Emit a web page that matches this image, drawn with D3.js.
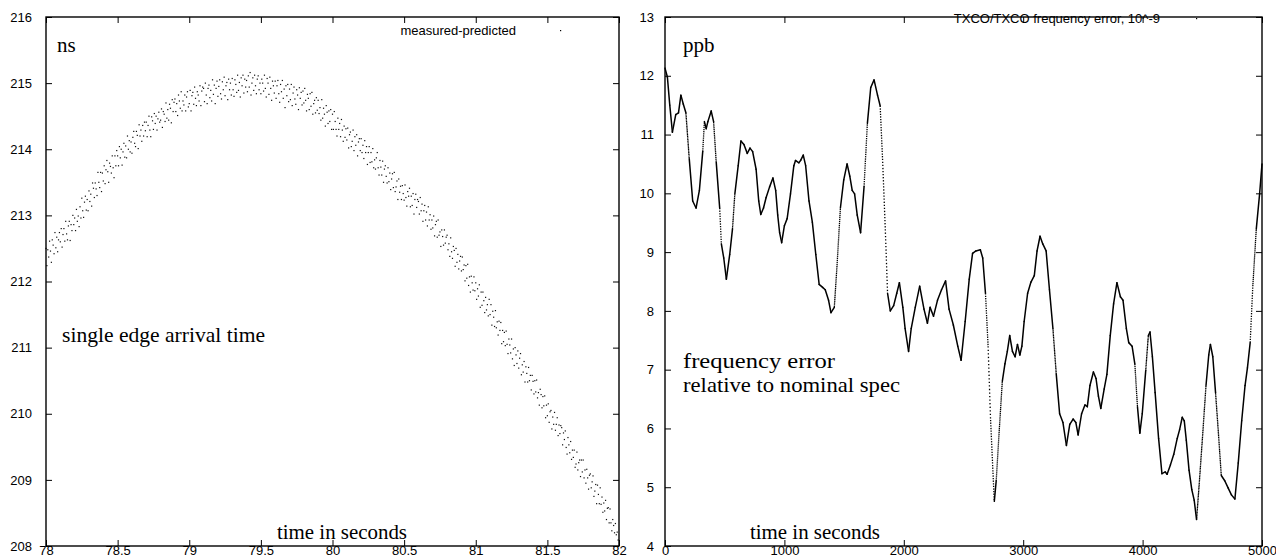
<!DOCTYPE html>
<html><head><meta charset="utf-8">
<script src="https://cdn.jsdelivr.net/npm/d3@7"></script>
<style>body{margin:0;background:#fff}svg{display:block}</style>
</head><body>
<svg id="c" width="1276" height="560"></svg>
<script>
// ---------- left panel: single edge arrival time (ns), sampled every 6.25 ms from 78 s ----------
const edgeStart = 78;
const edgeStep = 0.00625;
const edgeArrival = [
212.50,212.24,212.48,212.37,212.61,212.46,212.29,212.63,212.55,212.42,212.74,212.51,212.67,212.45,212.63,212.74,
212.60,212.80,212.52,212.71,212.80,212.61,212.91,212.72,212.63,212.84,212.91,212.62,212.86,212.77,213.00,212.86,
212.96,212.77,213.09,212.91,212.99,212.83,213.13,212.96,213.26,213.07,212.97,213.20,213.29,213.08,213.24,213.07,
213.37,213.21,213.32,213.14,213.49,213.41,213.27,213.49,213.40,213.30,213.65,213.50,213.42,213.65,213.36,213.64,
213.52,213.75,213.48,213.69,213.83,213.66,213.50,213.79,213.74,213.64,213.90,213.72,213.57,213.90,213.75,213.98,
213.90,213.75,214.04,213.87,214.00,213.76,213.96,214.09,213.88,214.05,213.87,214.20,214.00,214.13,213.96,214.11,
213.94,214.18,214.27,214.09,214.04,214.27,214.21,214.01,214.37,214.20,214.29,214.12,214.36,214.20,214.41,214.28,
214.41,214.19,214.36,214.50,214.29,214.19,214.49,214.43,214.30,214.54,214.39,214.50,214.29,214.46,214.56,214.41,
214.44,214.61,214.33,214.57,214.53,214.42,214.70,214.47,214.60,214.44,214.68,214.62,214.40,214.75,214.57,214.71,
214.76,214.57,214.69,214.51,214.82,214.73,214.62,214.87,214.58,214.73,214.67,214.82,214.58,214.79,214.87,214.64,
214.69,214.89,214.58,214.81,214.86,214.68,214.94,214.77,214.66,214.87,214.82,214.73,214.96,214.66,214.88,214.94,
214.92,214.72,215.00,214.82,214.69,214.92,214.97,214.78,214.89,214.73,215.05,214.83,214.97,214.69,214.92,215.03,
214.80,214.95,215.05,214.84,214.76,215.02,214.90,215.09,214.81,214.96,215.01,214.75,215.06,214.90,215.00,214.82,
215.07,214.90,214.80,215.05,214.98,214.86,215.12,214.89,215.01,214.79,215.08,214.96,215.12,214.85,215.06,214.94,
215.04,214.87,215.11,214.94,215.16,214.82,215.00,215.08,214.89,215.12,214.96,214.84,215.06,215.11,214.90,215.00,
214.84,215.06,215.00,214.88,215.12,214.92,214.79,215.07,215.00,214.83,215.09,214.92,214.74,215.03,214.96,214.85,
215.03,214.77,214.96,215.04,214.84,214.71,214.98,214.87,215.04,214.77,214.91,214.63,214.96,214.81,214.98,214.72,
214.91,214.75,214.98,214.66,214.85,214.94,214.76,214.68,214.90,214.82,214.60,214.93,214.77,214.86,214.67,214.88,
214.70,214.92,214.74,214.58,214.83,214.77,214.60,214.84,214.65,214.86,214.53,214.69,214.74,214.55,214.78,214.59,
214.74,214.54,214.63,214.44,214.75,214.47,214.62,214.53,214.35,214.66,214.56,214.39,214.58,214.42,214.60,214.30,
214.53,214.30,214.57,214.42,214.30,214.20,214.47,214.30,214.39,214.19,214.45,214.29,214.12,214.35,214.18,214.31,
214.14,214.32,214.02,214.22,214.26,214.04,214.12,214.29,213.98,214.19,214.06,214.22,213.90,214.11,214.16,213.98,
214.16,213.95,214.06,213.86,214.13,213.95,214.04,213.77,213.95,214.04,213.80,213.95,213.81,214.01,213.72,213.84,
213.70,213.87,213.95,213.72,213.61,213.83,213.73,213.61,213.82,213.50,213.70,213.75,213.59,213.49,213.72,213.51,
213.64,213.39,213.55,213.63,213.42,213.65,213.36,213.43,213.52,213.24,213.55,213.35,213.44,213.24,213.45,213.33,
213.23,213.46,213.27,213.14,213.36,213.29,213.41,213.13,213.29,213.15,213.33,213.02,213.24,213.32,213.12,213.24,
213.21,213.02,213.27,213.07,213.17,212.91,213.07,213.15,212.93,213.05,212.84,213.13,212.93,213.01,212.79,212.93,
212.81,212.99,212.69,212.86,212.91,212.67,212.93,212.70,212.75,212.53,212.78,212.68,212.55,212.78,212.58,212.67,
212.70,212.48,212.57,212.38,212.66,212.45,212.35,212.53,212.47,212.23,212.50,212.29,212.41,212.19,212.31,212.38,
212.16,212.37,212.18,212.25,212.01,212.24,212.05,212.26,211.94,212.07,211.84,212.08,211.98,211.87,212.07,211.86,
211.98,211.73,211.89,211.78,211.95,211.61,211.84,211.64,211.84,211.71,211.53,211.76,211.57,211.65,211.48,211.73,
211.50,211.65,211.34,211.55,211.46,211.32,211.56,211.30,211.39,211.19,211.40,211.26,211.38,211.06,211.26,211.09,
211.23,211.03,211.25,211.05,210.91,211.13,211.04,210.92,211.13,210.83,210.98,210.73,211.00,210.89,210.76,210.95,
210.69,210.84,210.91,210.59,210.74,210.63,210.79,210.48,210.71,210.61,210.48,210.70,210.50,210.58,210.36,210.58,
210.49,210.30,210.50,210.33,210.51,210.24,210.32,210.13,210.37,210.29,210.09,210.26,210.12,210.27,209.94,210.13,
209.97,210.15,209.87,210.03,210.05,209.77,209.95,209.84,210.02,209.75,209.84,209.94,209.67,209.83,209.70,209.82,
209.79,209.53,209.71,209.61,209.74,209.49,209.39,209.64,209.53,209.41,209.58,209.31,209.45,209.34,209.45,209.19,
209.24,209.42,209.15,209.26,209.30,209.05,209.30,209.12,209.30,209.03,209.15,208.95,209.16,209.03,208.86,209.07,
209.09,208.88,208.97,209.06,208.75,208.83,208.93,208.64,208.92,208.78,208.64,208.88,208.63,208.74,208.51,208.65,
208.53,208.69,208.40,208.57,208.58,208.35,208.56,208.35,208.23,208.40,208.31,208.20,208.34,208.17,208.21,208.09
];
const edgeXTicks = [78, 78.5, 79, 79.5, 80, 80.5, 81, 81.5, 82];
const edgeYTicks = [208, 209, 210, 211, 212, 213, 214, 215, 216];

// ---------- right panel: TXCO/TXCO frequency error (ppb) ----------
const freqTime = [0,20,40,62,90,113,133,153,175,203,232,260,288,316,330,345,359,387,407,429,458,472,492,514,542,565,585,613,636,661,689,712,734,763,785,802,825,847,876,904,927,944,960,977,1000,1023,1051,1079,1093,1121,1136,1158,1178,1206,1234,1263,1291,1320,1342,1370,1390,1418,1441,1469,1497,1525,1548,1568,1588,1610,1638,1667,1695,1723,1751,1780,1802,1822,1845,1864,1887,1915,1941,1963,1992,2011,2040,2062,2096,2133,2169,2198,2220,2249,2282,2316,2350,2379,2415,2452,2480,2514,2548,2576,2604,2641,2661,2684,2706,2726,2746,2758,2774,2797,2825,2847,2867,2887,2910,2932,2952,2972,2989,3008,3037,3065,3093,3116,3141,3164,3192,3220,3249,3277,3305,3333,3362,3390,3418,3441,3460,3489,3517,3537,3559,3588,3610,3630,3650,3678,3701,3729,3757,3785,3814,3836,3864,3884,3912,3935,3957,3977,3997,4026,4048,4062,4082,4105,4134,4162,4190,4205,4233,4261,4290,4310,4332,4349,4366,4389,4412,4432,4452,4474,4503,4531,4554,4568,4588,4611,4636,4659,4688,4716,4744,4773,4801,4830,4858,4878,4901,4923,4952,4980,5000];
const freqValue = [12.13,11.98,11.50,11.04,11.34,11.37,11.67,11.52,11.37,10.59,9.87,9.75,10.05,10.71,11.22,11.10,11.22,11.40,11.22,10.53,9.75,9.14,8.90,8.54,8.96,9.39,9.99,10.47,10.89,10.83,10.68,10.77,10.71,10.41,9.87,9.64,9.75,9.93,10.11,10.26,10.05,9.63,9.33,9.16,9.45,9.57,9.99,10.47,10.56,10.52,10.56,10.65,10.47,9.87,9.51,8.96,8.45,8.40,8.36,8.18,7.97,8.06,8.78,9.75,10.23,10.50,10.29,10.05,9.99,9.63,9.33,10.11,11.19,11.80,11.93,11.67,11.49,10.59,9.39,8.30,8.00,8.09,8.30,8.48,8.06,7.70,7.31,7.70,8.06,8.42,8.03,7.79,8.06,7.91,8.18,8.36,8.51,8.03,7.76,7.40,7.16,7.82,8.54,8.98,9.02,9.04,8.90,8.30,7.40,6.19,5.29,4.76,5.11,5.89,6.80,7.10,7.31,7.58,7.31,7.22,7.43,7.25,7.40,7.82,8.30,8.49,8.60,9.02,9.27,9.14,9.02,8.36,7.70,6.92,6.25,6.10,5.71,6.07,6.16,6.10,5.89,6.25,6.40,6.37,6.73,6.96,6.85,6.55,6.34,6.67,6.92,7.58,8.12,8.48,8.24,8.18,7.70,7.46,7.40,7.10,6.37,5.92,6.25,6.98,7.58,7.64,7.22,6.61,5.83,5.23,5.26,5.22,5.38,5.56,5.83,5.98,6.19,6.13,5.80,5.29,4.96,4.78,4.45,5.05,5.89,6.73,7.25,7.43,7.22,6.61,5.89,5.20,5.11,4.99,4.87,4.80,5.41,6.13,6.73,7.03,7.46,8.42,9.39,9.99,10.50];
const freqXTicks = [0, 1000, 2000, 3000, 4000, 5000];
const freqYTicks = [4, 5, 6, 7, 8, 9, 10, 11, 12, 13];

// ---------- drawing ----------
const svg = d3.select("#c");
const SANS = "'Liberation Sans', Arial, sans-serif";
const SERIF = "'Liberation Serif', 'Times New Roman', serif";

function frame(x, y, xTicks, yTicks, yLabelPad) {
  const [x0, x1] = x.range();
  const [y1, y0] = y.range();
  const g = svg.append("g");
  const styleAxis = a => {
    a.select(".domain").remove();
    a.selectAll(".tick line").attr("stroke", "#000").attr("stroke-width", 1);
    a.selectAll("text").attr("font-family", SANS).attr("font-size", 13).attr("fill", "#000");
  };
  g.append("g").attr("transform", `translate(0,${y1})`)
    .call(d3.axisBottom(x).tickValues(xTicks).tickSizeInner(-6).tickSizeOuter(0).tickPadding(0).tickFormat(d => String(d)))
    .call(styleAxis);
  g.append("g").attr("transform", `translate(0,${y0})`)
    .call(d3.axisTop(x).tickValues(xTicks).tickSizeInner(-6).tickSizeOuter(0).tickFormat(""))
    .call(styleAxis);
  g.append("g").attr("transform", `translate(${x0},0)`)
    .call(d3.axisLeft(y).tickValues(yTicks).tickSizeInner(-6).tickSizeOuter(0).tickPadding(yLabelPad).tickFormat(d => String(d)))
    .call(styleAxis);
  g.append("g").attr("transform", `translate(${x1},0)`)
    .call(d3.axisRight(y).tickValues(yTicks).tickSizeInner(-6).tickSizeOuter(0).tickFormat(""))
    .call(styleAxis);
  g.append("rect").attr("x", x0).attr("y", y0).attr("width", x1 - x0).attr("height", y1 - y0)
    .attr("fill", "none").attr("stroke", "#000").attr("stroke-width", 1.4);
  return g;
}
function label(txt, x, yb, size, family, anchor, len) {
  const t = svg.append("text").attr("x", x).attr("y", yb).attr("font-family", family).attr("font-size", size)
    .attr("text-anchor", anchor || "start").attr("fill", "#000").text(txt);
  if (len) t.attr("textLength", len).attr("lengthAdjust", "spacingAndGlyphs");
}

// Left panel
const ex = d3.scaleLinear().domain([78, 82]).range([46, 619]);
const ey = d3.scaleLinear().domain([208, 216]).range([546, 17]);
const edgePts = edgeArrival.map((v, i) => [edgeStart + i * edgeStep, v]);
svg.append("g").selectAll("rect").data(edgePts).join("rect")
  .attr("x", d => ex(d[0]) - 0.6).attr("y", d => ey(d[1]) - 0.6)
  .attr("width", 1.2).attr("height", 1.2).attr("fill", "#111");
frame(ex, ey, edgeXTicks, edgeYTicks, 14);
label("ns", 57, 52, 21, SERIF);
label("single edge arrival time", 62, 342, 21, SERIF, "start", 203);
label("time in seconds", 277, 539, 21, SERIF, "start", 130);
label("measured-predicted", 516, 35, 13, SANS, "end");
svg.append("rect").attr("x", 560).attr("y", 30).attr("width", 1.2).attr("height", 1.2).attr("fill", "#000");

// Right panel
const fx = d3.scaleLinear().domain([0, 5000]).range([665, 1262]);
const fy = d3.scaleLinear().domain([4, 13]).range([546, 17]);
const fPts = d3.zip(freqTime, freqValue);
const segs = d3.pairs(fPts);
svg.append("g").selectAll("line").data(segs).join("line")
  .attr("x1", d => fx(d[0][0])).attr("y1", d => fy(d[0][1]))
  .attr("x2", d => fx(d[1][0])).attr("y2", d => fy(d[1][1]))
  .attr("stroke", "#000")
  .each(function(d) {
    const L = Math.hypot(fx(d[1][0]) - fx(d[0][0]), fy(d[1][1]) - fy(d[0][1]));
    const s = L / (d[1][0] - d[0][0]); // px per 1-second sample
    const sel = d3.select(this);
    if (s <= 1.6) sel.attr("stroke-width", 1.5).attr("stroke-linecap", "round");
    else sel.attr("stroke-width", 1.3).attr("stroke-dasharray", `1.3 ${(s - 1.3).toFixed(2)}`);
  });
frame(fx, fy, freqXTicks, freqYTicks, 11);
label("ppb", 683, 52, 21, SERIF);
label("frequency error", 683, 368, 21, SERIF, "start", 152);
label("relative to nominal spec", 683, 392, 21, SERIF, "start", 217);
label("time in seconds", 750, 539, 21, SERIF, "start", 130);
label("TXCO/TXCO frequency error, 10^-9", 1160, 23, 13, SANS, "end");
svg.append("rect").attr("x", 1196).attr("y", 18).attr("width", 1.2).attr("height", 1.2).attr("fill", "#000");
</script>
</body></html>
